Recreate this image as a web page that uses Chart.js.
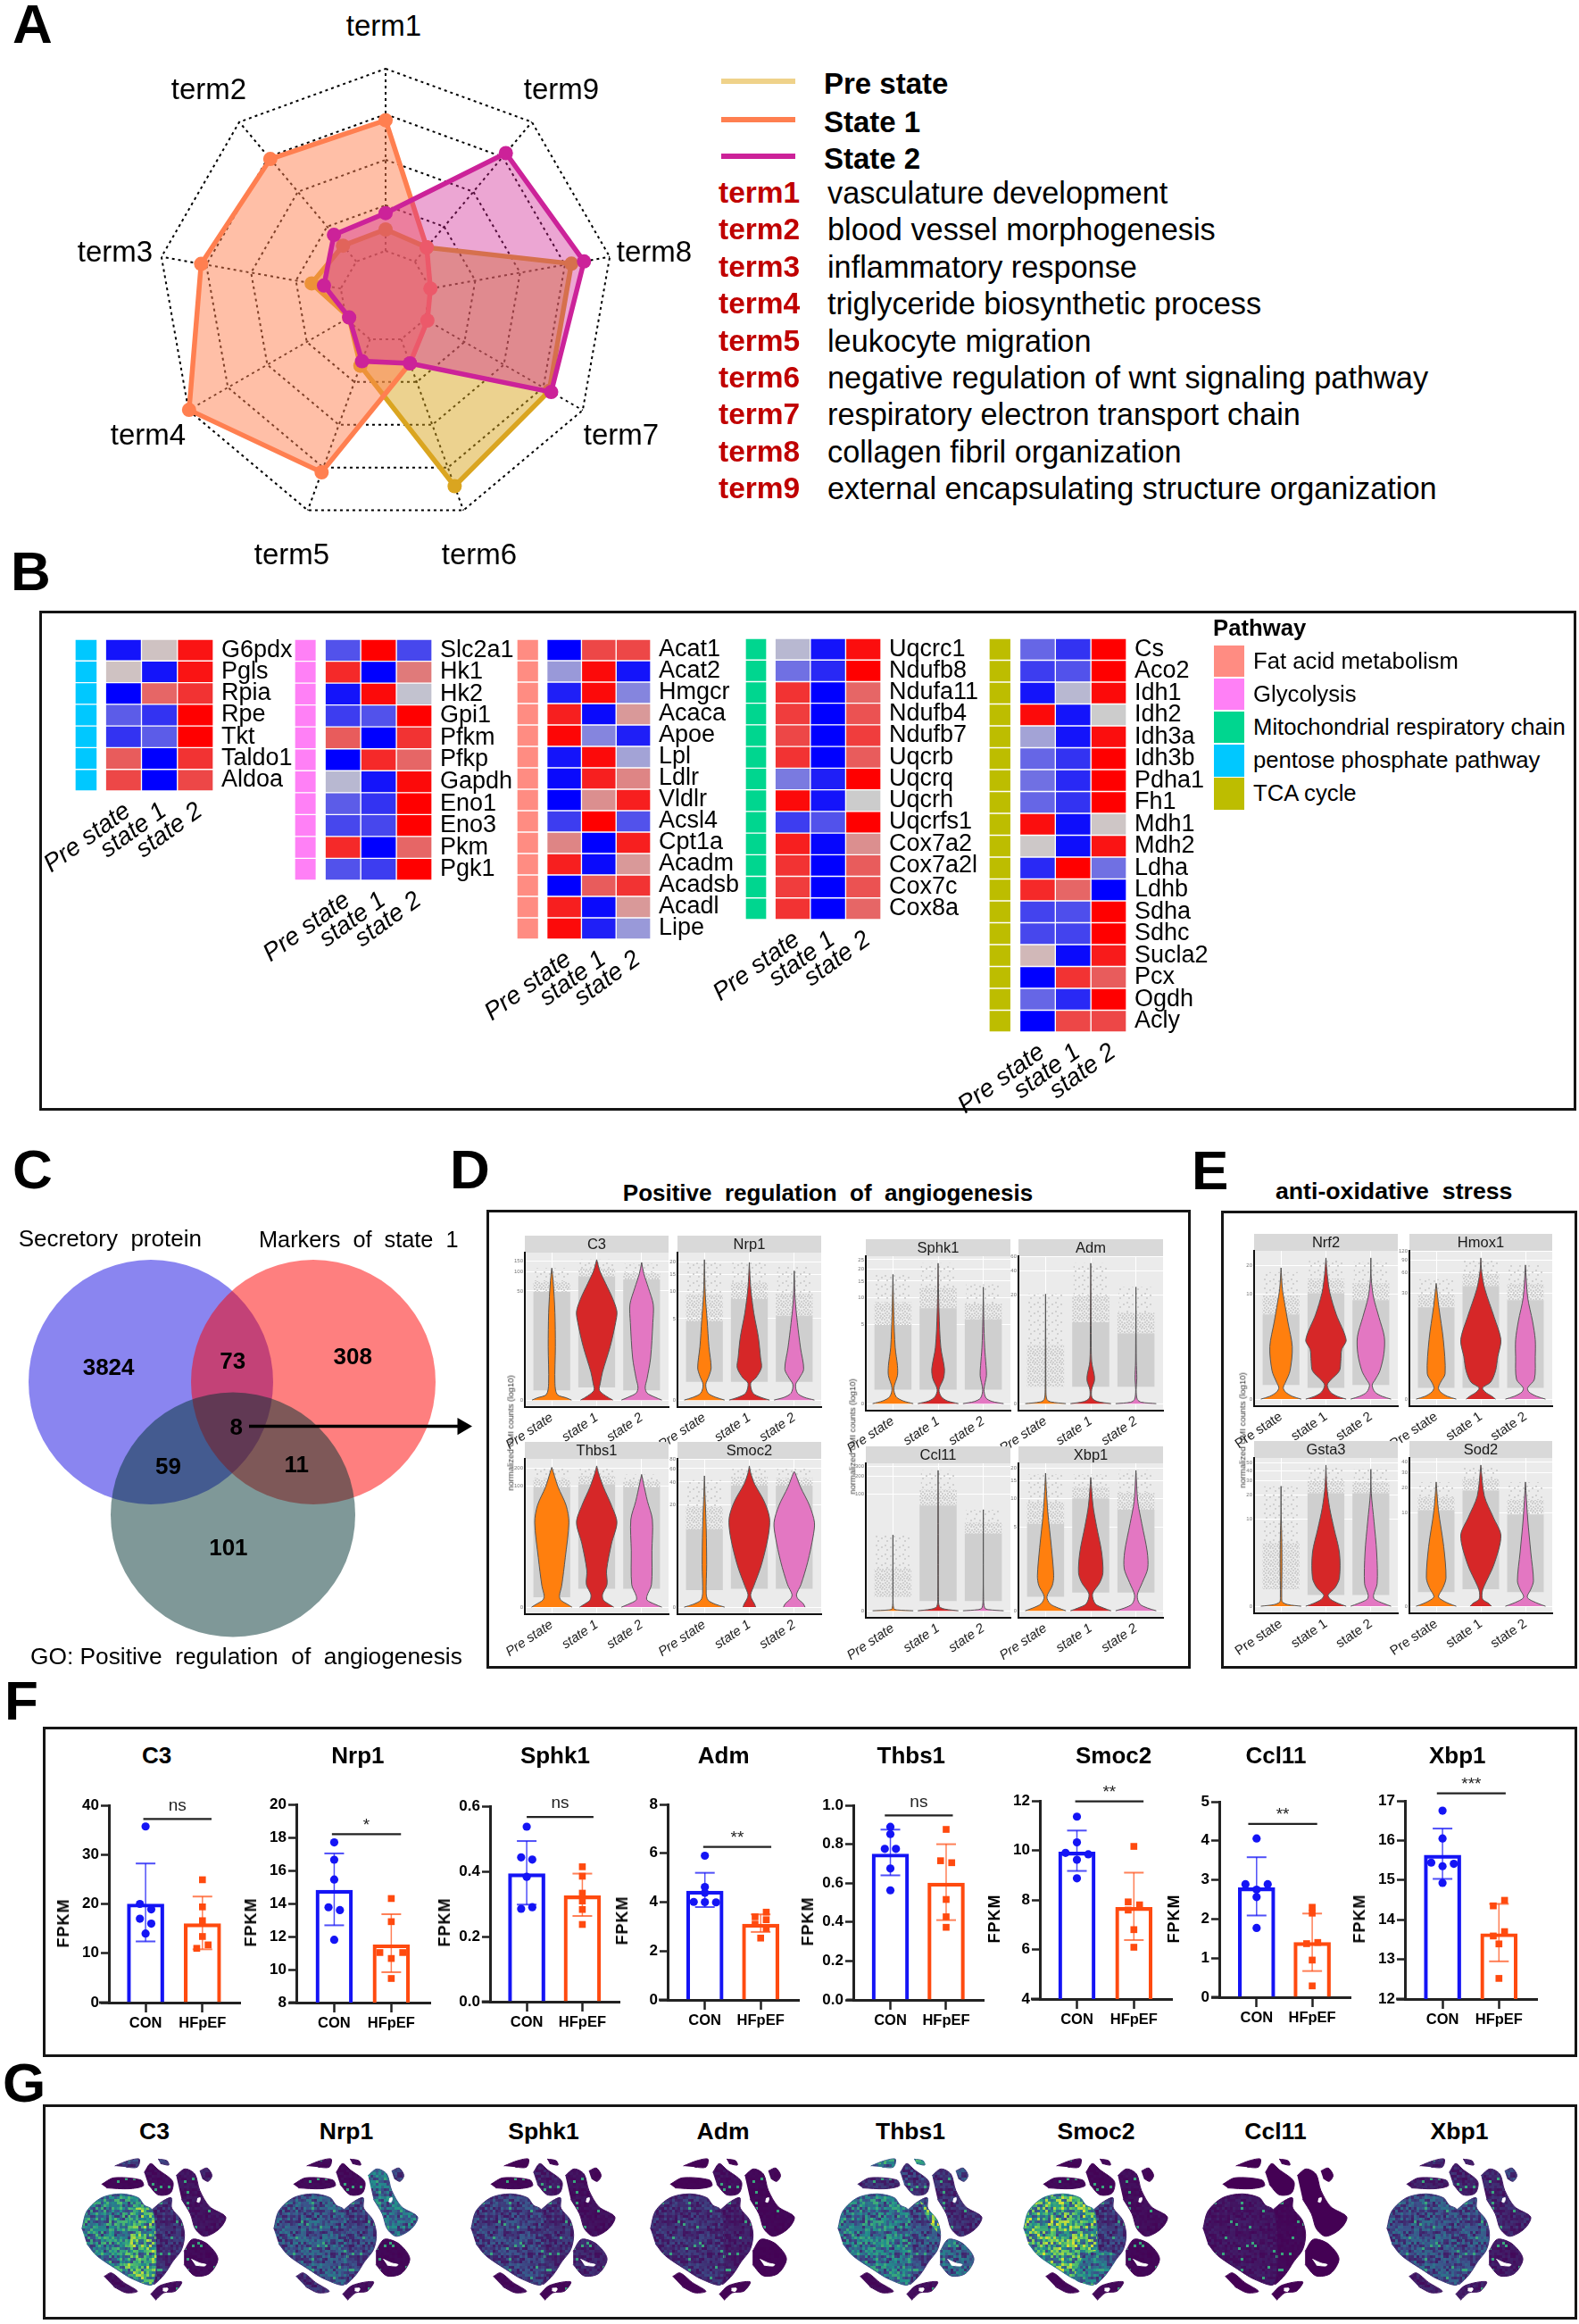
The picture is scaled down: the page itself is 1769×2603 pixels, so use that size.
<!DOCTYPE html>
<html>
<head>
<meta charset="utf-8">
<title>Figure</title>
<script src="https://cdn.jsdelivr.net/npm/chart.js@4/dist/chart.umd.js"></script>
<style>
  html, body { margin: 0; padding: 0; background: #fff; }
  #page { position: relative; width: 1769px; height: 2603px; overflow: hidden; background: #fff; font-family: "Liberation Sans", Arial, sans-serif; }
  #page canvas { position: absolute; }
  .t { position: absolute; white-space: pre; color: #000; z-index: 3; line-height: 1; }
  .box { position: absolute; border: 3px solid #151515; box-sizing: border-box; }
</style>
</head>
<body>
<div id="page"></div>
<script>
// ---------- A: radar ----------
const radarLabels = ["term1", "term9", "term8", "term7", "term6", "term5", "term4", "term3", "term2"];
const radarPre = [0.294, 0.281, 0.829, 0.83, 0.887, 0.324, 0.185, 0.33, 0.291];
const radarState1 = [0.774, 0.281, 0.2, 0.212, 0.313, 0.822, 0.997, 0.823, 0.788];
const radarState2 = [0.366, 0.822, 0.885, 0.84, 0.313, 0.303, 0.185, 0.275, 0.353];
const termNames = [
  "vasculature development", "blood vessel morphogenesis", "inflammatory response",
  "triglyceride biosynthetic process", "leukocyte migration",
  "negative regulation of wnt signaling pathway", "respiratory electron transport chain",
  "collagen fibril organization", "external encapsulating structure organization"
];

// ---------- B: heatmaps, z score per gene [Pre state, state 1, state 2] ----------
const stateLabels = ["Pre state", "state 1", "state 2"];
const genesPpp = ["G6pdx", "Pgls", "Rpia", "Rpe", "Tkt", "Taldo1", "Aldoa"];
const zPpp = [[-.9,.05,.9],[.05,-.9,.9],[-1,.5,.75],[-.55,-.75,1],[-.75,-.55,1],[.55,-1,.75],[.65,-1,.65]];
const genesGly = ["Slc2a1", "Hk1", "Hk2", "Gpi1", "Pfkm", "Pfkp", "Gapdh", "Eno1", "Eno3", "Pkm", "Pgk1"];
const zGly = [[-.6,1,-.65],[.8,-1,.4],[-.9,.95,-.05],[-.7,-.6,1],[.55,-1,.75],[-1,.8,.5],[-.1,-.9,.95],[-.55,-.75,1],[-.65,-.65,1],[.8,-1,.5],[-.6,-.7,1]];
const genesFat = ["Acat1", "Acat2", "Hmgcr", "Acaca", "Apoe", "Lpl", "Ldlr", "Vldlr", "Acsl4", "Cpt1a", "Acadm", "Acadsb", "Acadl", "Lipe"];
const zFat = [[-1,.65,.65],[-.25,.95,-.9],[-.85,.95,-.35],[.85,-.95,.25],[.97,-.35,-.85],[-.9,.95,-.2],[-.95,.85,.35],[-1,.3,.85],[-.7,1,-.6],[.35,-1,.85],[.85,-.95,.25],[-1,.55,.75],[.85,-.95,.25],[.95,-.85,-.25]];
const genesMito = ["Uqcrc1", "Ndufb8", "Ndufa11", "Ndufb4", "Ndufb7", "Uqcrb", "Uqcrq", "Uqcrh", "Uqcrfs1", "Cox7a2", "Cox7a2l", "Cox7c", "Cox8a"];
const zMito = [[-.1,-.9,.93],[-.45,-.8,1],[.75,-1,.5],[.7,-1,.6],[.65,-1,.7],[.75,-1,.55],[-.4,-.85,1],[.95,-.9,0],[-.7,-.6,1],[.85,-.97,.3],[.75,-1,.55],[.7,-1,.6],[.75,-1,.5]];
const genesTca = ["Cs", "Aco2", "Idh1", "Idh2", "Idh3a", "Idh3b", "Pdha1", "Fh1", "Mdh1", "Mdh2", "Ldha", "Ldhb", "Sdha", "Sdhc", "Sucla2", "Pcx", "Ogdh", "Acly"];
const zTca = [[-.5,-.75,1],[-.7,-.6,1],[-.9,-.1,.95],[.95,-.9,0],[-.2,-.9,.93],[-.5,-.75,1],[-.45,-.8,1],[-.5,-.75,1],[.93,-.93,.03],[.02,-.93,.9],[-.8,1,-.45],[.8,.5,-1],[-.67,-.62,1],[-.65,-.67,1],[.1,-.95,.87],[-1,.75,.55],[-.5,-.8,1],[-1,.65,.65]];
const pathwayNames = ["Fat acid metabolism", "Glycolysis", "Mitochondrial respiratory chain", "pentose phosphate pathway", "TCA cycle"];
const pathwayColors = ["#FF8C82", "#FF80F6", "#00D68F", "#00C8FF", "#BDBD00"];

// ---------- C: venn ----------
const vennX = [169, 351, 261];
const vennY = [1548, 1548, 1696.5];
const vennR = [137, 137, 137];

// ---------- D, E: violins. node = [fraction of panel maximum on the log axis, half density] ----------
const vC3 = [
  [[0,.44],[.015,.33],[.04,.12],[.12,.07],[.38,.08],[.62,.07],[.85,.03],[.94,0]],
  [[0,.36],[.03,.2],[.07,.06],[.12,.08],[.2,.13],[.38,.3],[.55,.42],[.63,.45],[.72,.36],[.83,.2],[.92,.07],[1,0]],
  [[0,.45],[.02,.3],[.05,.12],[.09,.08],[.15,.12],[.3,.2],[.55,.25],[.68,.26],[.8,.15],[.9,.05],[.98,0]]];
const vNrp1 = [
  [[0,.45],[.02,.25],[.05,.08],[.11,.03],[.17,.1],[.23,.15],[.38,.1],[.57,.06],[.75,.02],[1,0]],
  [[0,.45],[.02,.25],[.05,.08],[.12,.03],[.16,.15],[.23,.27],[.3,.25],[.45,.2],[.62,.1],[.8,.03],[.98,0]],
  [[0,.45],[.02,.22],[.05,.07],[.11,.03],[.16,.12],[.22,.21],[.37,.14],[.55,.07],[.72,.02],[.92,0]]];
const vThbs1 = [
  [[0,.45],[.02,.35],[.05,.2],[.08,.17],[.15,.22],[.35,.3],[.6,.38],[.72,.32],[.85,.14],[.95,.04],[.99,0]],
  [[0,.38],[.02,.28],[.05,.15],[.09,.13],[.16,.23],[.26,.22],[.45,.33],[.6,.45],[.72,.33],[.85,.15],[.95,.04],[1,0]],
  [[0,.45],[.02,.3],[.05,.12],[.08,.12],[.16,.22],[.4,.23],[.62,.24],[.75,.13],[.88,.04],[.94,0]]];
const vSmoc2 = [
  [[0,.45],[.02,.25],[.05,.08],[.1,.04],[.3,.05],[.55,.04],[.78,.015],[.93,0]],
  [[0,.14],[.02,.12],[.06,.05],[.09,.03],[.15,.1],[.3,.27],[.5,.42],[.63,.45],[.75,.33],[.87,.12],[.95,.03],[1,0]],
  [[0,.24],[.025,.2],[.06,.08],[.09,.05],[.16,.15],[.32,.3],[.5,.42],[.6,.45],[.72,.34],[.85,.14],[.95,.02],[.96,0]]];
const vSphk1 = [
  [[0,.45],[.02,.22],[.05,.07],[.11,.02],[.2,.1],[.27,.1],[.4,.05],[.63,.02],[.92,0]],
  [[0,.45],[.02,.2],[.05,.07],[.1,.02],[.18,.12],[.25,.14],[.4,.06],[.65,.02],[1,0]],
  [[0,.45],[.015,.2],[.04,.06],[.1,.015],[.2,.07],[.27,.06],[.4,.03],[.6,.01],[.83,0]]];
const vAdm = [
  [[0,.45],[.012,.12],[.03,.03],[.1,.008],[.4,.005],[.78,0]],
  [[0,.45],[.015,.15],[.04,.03],[.1,.02],[.16,.08],[.2,.08],[.3,.02],[.5,.01],[1,0]],
  [[0,.45],[.01,.12],[.03,.03],[.1,.005],[.18,.02],[.3,.008],[.83,0]]];
const vCcl11 = [
  [[0,.45],[.006,.1],[.015,.02],[.1,.003],[.54,0]],
  [[0,.45],[.012,.15],[.03,.03],[.1,.008],[.4,.006],[1,0]],
  [[0,.45],[.008,.12],[.02,.03],[.1,.005],[.72,0]]];
const vXbp1 = [
  [[0,.45],[.02,.28],[.05,.1],[.1,.03],[.18,.15],[.25,.18],[.45,.13],[.7,.05],[.85,.02],[.98,0]],
  [[0,.45],[.02,.28],[.05,.1],[.12,.04],[.2,.2],[.27,.27],[.42,.24],[.6,.13],[.75,.05],[.95,0]],
  [[0,.45],[.02,.25],[.05,.08],[.11,.03],[.2,.14],[.3,.26],[.42,.25],[.62,.13],[.78,.04],[1,0]]];
const vNrf2 = [
  [[0,.45],[.02,.25],[.05,.1],[.08,.05],[.12,.1],[.2,.2],[.37,.25],[.55,.15],[.68,.08],[.78,.03],[.93,0]],
  [[0,.45],[.02,.25],[.05,.1],[.1,.03],[.14,.12],[.2,.3],[.27,.33],[.35,.35],[.42,.45],[.6,.23],[.75,.09],[.88,.03],[1,0]],
  [[0,.45],[.02,.25],[.05,.09],[.1,.03],[.14,.1],[.2,.2],[.32,.29],[.44,.3],[.58,.18],[.72,.06],[.85,.01],[1,0]]];
const vHmox1 = [
  [[0,.45],[.02,.25],[.05,.1],[.08,.05],[.12,.1],[.18,.2],[.42,.16],[.65,.06],[.82,0]],
  [[0,.33],[.02,.25],[.05,.1],[.08,.04],[.12,.22],[.2,.33],[.3,.38],[.42,.45],[.58,.3],[.78,.09],[.9,.02],[1,0]],
  [[0,.45],[.02,.25],[.05,.08],[.08,.05],[.14,.2],[.3,.22],[.42,.22],[.55,.16],[.72,.05],[.95,0]]];
const vGsta3 = [
  [[0,.45],[.012,.15],[.03,.03],[.06,.015],[.3,.02],[.5,.015],[.65,.003],[.85,0]],
  [[0,.45],[.02,.28],[.05,.1],[.08,.05],[.13,.2],[.2,.3],[.38,.3],[.55,.18],[.7,.08],[.85,.02],[1,0]],
  [[0,.45],[.02,.28],[.05,.08],[.08,.06],[.16,.14],[.38,.13],[.6,.07],[.8,.01],[.97,0]]];
const vSod2 = [
  [[0,.45],[.02,.28],[.05,.1],[.07,.05],[.13,.15],[.2,.22],[.42,.17],[.68,.05],[.88,0]],
  [[0,.24],[.02,.18],[.05,.04],[.1,.03],[.14,.07],[.3,.3],[.5,.45],[.63,.28],[.78,.08],[1,0]],
  [[0,.45],[.02,.28],[.05,.08],[.07,.04],[.12,.12],[.18,.18],[.38,.12],[.62,.05],[.88,0]]];

// grey jitter extent per state: [bottom, top of dense part, top of sparse part] as fraction of maximum
const jC3 = [[.07,.77,.94],[.09,.88,1],[.07,.86,.97]];
const jNrp1 = [[.13,.56,.98],[.13,.72,.98],[.13,.6,.95]];
const jThbs1 = [[.07,.85,.99],[.13,.87,1],[.13,.85,.94]];
const jSmoc2 = [[.12,.55,.9],[.13,.86,1],[.13,.86,.98]];
const jSphk1 = [[.1,.56,.92],[.1,.68,1],[.1,.6,.85]];
const jAdm = [[.12,.12,.78],[.12,.58,1],[.12,.5,.83]];
const jCcl11 = [[.1,.1,.54],[.07,.75,1],[.07,.55,.72]];
const jXbp1 = [[.1,.62,.97],[.13,.8,.97],[.13,.72,1]];
const jNrf2 = [[.1,.6,.9],[.08,.75,.98],[.1,.7,.97]];
const jHmox1 = [[.08,.65,.85],[.08,.8,.99],[.08,.7,.95]];
const jGsta3 = [[.12,.12,.85],[.08,.8,1],[.08,.8,.97]];
const jSod2 = [[.1,.68,.88],[.12,.82,1],[.1,.65,.88]];

// tick values and the largest count on each panel
const ticksC3 = [0,50,100,150], maxC3 = 157;
const ticksNrp1 = [0,5,10,15,20], maxNrp1 = 21;
const ticksThbs1 = [0,100,200], maxThbs1 = 215;
const ticksSmoc2 = [0,20,40,60,80], maxSmoc2 = 65;
const ticksSphk1 = [0,5,10,15,20,25], maxSphk1 = 23;
const ticksAdm = [0,20,40,60], maxAdm = 50;
const ticksCcl11 = [0,100,200,300], maxCcl11 = 255;
const ticksXbp1 = [0,5,10,15,20], maxXbp1 = 19;
const ticksNrf2 = [0,10,20], maxNrf2 = 24;
const ticksHmox1 = [0,30,60,90,120], maxHmox1 = 97;
const ticksGsta3 = [0,10,20,30,40,50], maxGsta3 = 47;
const ticksSod2 = [0,10,20,30,40], maxSod2 = 37;

// ---------- F: FPKM bars ----------
const groups = ["CON", "HFpEF"];
const fGenes = ["C3", "Nrp1", "Sphk1", "Adm", "Thbs1", "Smoc2", "Ccl11", "Xbp1"];
const fMeans = [[20,16],[14.8,11.5],[.393,.325],[4.45,3.1],[.75,.6],[9.93,7.7],[2.8,1.4],[15.63,13.65]];
const fHigh = [[28.2,21.5],[17.03,13.35],[.493,.393],[5.2,3.5],[.875,.8],[10.8,9.1],[3.58,2.14],[16.3,14.4]];
const fLow = [[12.4,10.8],[12.68,9.84],[.298,.263],[3.8,2.78],[.64,.41],[9.17,6.38],[2.09,.67],[15.03,12.95]];
const fAxisMin = [0,8,0,0,0,4,0,12];
const fAxisMax = [40,20,.6,8,1,12,5,17];
const fStep = [10,2,.2,2,.2,2,1,1];
const fDecimals = [0,0,1,0,1,0,0,0];
const fSigText = ["ns","*","ns","**","ns","**","**","***"];
const fSigY = [37.2,18.2,.567,6.26,.948,11.98,4.43,17.19];
const fSigX = [[-.04,1.16],[-.04,1.17],[0,1.2],[-.03,1.19],[-.1,1.12],[-.03,1.17],[-.15,1.09],[-.1,1.12]];
// points per gene: [offset, value]
const fCon = [
  [[0,35.7],[-.1,20],[.1,18.9],[-.1,17],[.1,16],[0,14]],
  [[0,17.7],[0,16.65],[0,15.45],[-.1,13.77],[.1,13.6],[0,11.8]],
  [[0,.537],[-.1,.443],[.1,.436],[0,.383],[.1,.29],[-.1,.285]],
  [[0,5.9],[0,4.62],[0,4.38],[-.2,4.01],[.2,3.99],[0,4]],
  [[0,.889],[0,.852],[-.1,.776],[.1,.776],[0,.675],[0,.563]],
  [[0,11.36],[0,10.32],[-.2,9.9],[.2,9.84],[0,9.62],[0,8.87]],
  [[0,4.06],[-.2,2.89],[.2,2.89],[0,2.75],[0,2.56],[0,1.77]],
  [[0,16.75],[0,16.05],[-.2,15.44],[.2,15.41],[0,15.35],[0,14.93]]];
const fHf = [
  [[0,24.9],[0,19.4],[0,16.6],[0,13.4],[.1,11.7],[-.1,11]],
  [[0,14.3],[0,12.9],[-.2,11.03],[.2,11.03],[0,10.67],[0,9.46]],
  [[0,.414],[0,.385],[0,.333],[0,.309],[0,.283],[0,.237]],
  [[.1,3.59],[-.1,3.4],[.1,3.28],[-.1,3.1],[.1,2.92],[0,2.53]],
  [[0,.876],[-.1,.715],[.1,.705],[0,.516],[0,.427],[0,.373]],
  [[0,10.16],[-.1,7.92],[.1,7.8],[-.1,7.59],[0,6.8],[0,6.09]],
  [[0,2.3],[0,2.15],[.1,1.4],[-.1,1.37],[0,.95],[0,.29]],
  [[.1,14.49],[-.1,14.35],[.1,13.7],[-.1,13.59],[0,13.39],[0,12.52]]];

// ---------- G: t-SNE clusters (outlines in embedding units) ----------
const clusterMainL = [[95,470],[105,410],[135,365],[175,352],[210,365],[222,390],[238,405],[245,480],[240,655],[200,640],[165,605],[125,560],[105,520]];
const clusterMainR = [[238,405],[258,378],[277,365],[278,400],[297,440],[304,490],[298,540],[280,580],[262,625],[240,655],[245,480]];
const clusterLong = [[287,290],[305,268],[325,285],[335,340],[355,395],[388,430],[375,470],[345,495],[326,470],[316,420],[298,370]];
const clusterLower = [[303,545],[320,505],[350,520],[372,570],[355,620],[325,628],[303,590]];
const clusterTopMid = [[222,280],[235,250],[250,270],[280,310],[275,350],[250,355],[230,320]];
const clusterFlat = [[135,320],[160,298],[215,305],[220,325],[190,335],[145,332]];
const clusterTopSmall = [[162,258],[190,240],[212,235],[208,262],[185,262]];
const clusterSmallTR = [[335,275],[350,265],[360,290],[352,310],[340,300]];
const clusterArc = [[140,630],[155,618],[180,650],[208,680],[185,685],[160,665]];
const clusterBottom = [[235,690],[255,660],[298,648],[285,680],[262,685],[245,710]];
const clusterTiny = [[250,235],[268,240],[272,255],[255,250]];
const clusterOutlines = [clusterMainL, clusterMainR, clusterLong, clusterLower, clusterTopMid, clusterFlat, clusterTopSmall, clusterSmallTR, clusterArc, clusterBottom, clusterTiny];
const holeLower = [[318,572],[335,585],[348,590],[344,595],[326,592]];
const holeBottom = [[260,670],[270,670],[268,680],[260,678]];
const holeLong = [[330,368],[336,365],[334,380],[329,378]];

const tsneGenes = ["C3", "Nrp1", "Sphk1", "Adm", "Thbs1", "Smoc2", "Ccl11", "Xbp1"];
const levelC3 = [.5,.16,.06,.03,.04,.02,.2,.1,.05,.05,.2];
const levelNrp1 = [.3,.24,.4,.02,.03,.03,.03,.2,.15,.05,.03];
const levelSphk1 = [.22,.16,.05,.12,.1,.02,.01,.02,.03,.02,.02];
const levelAdm = [.16,.1,.02,.01,.05,.01,.01,.02,.01,.01,.01];
const levelThbs1 = [.45,.28,.15,.35,.2,.15,.5,.25,.03,.05,.6];
const levelSmoc2 = [.68,.2,.04,.02,.02,.03,.02,.02,.02,.03,.02];
const levelCcl11 = [.07,.025,0,0,0,0,0,0,0,0,0];
const levelXbp1 = [.28,.28,.12,.08,.12,.1,.12,.2,.1,.1,.1];
const hotC3 = [[190,400],[235,405],[245,480],[240,650],[205,640],[180,590],[195,500]];
const hotThbs1 = [[262,375],[277,400],[297,440],[304,490],[292,470],[275,430]];
const hotSmoc2 = [[245,540],[285,560],[262,625],[240,655],[200,640],[215,560]];

// ---------- helpers ----------
const page = document.getElementById("page");
Chart.defaults.font.family = '"Liberation Sans", Arial, sans-serif';
Chart.defaults.color = "#000";
Chart.defaults.animation = false;
Chart.defaults.plugins.legend.display = false;
Chart.defaults.plugins.tooltip.enabled = false;

function put(str, x, y, o) {
  o = o || {};
  const d = document.createElement("div");
  d.className = "t";
  d.textContent = str;
  d.style.left = x + "px";
  d.style.top = y + "px";
  d.style.fontSize = (o.size || 20) + "px";
  if (o.weight) d.style.fontWeight = o.weight;
  if (o.color) d.style.color = o.color;
  if (o.italic) d.style.fontStyle = "italic";
  if (o.spacing) d.style.letterSpacing = o.spacing + "px";
  const tx = o.left ? "0" : "-50%";
  d.style.transform = "translate(" + tx + ",-50%)" + (o.rotate ? " rotate(" + o.rotate + "deg)" : "");
  page.appendChild(d);
}

function rect(x0, y0, x1, y1, color) {
  const d = document.createElement("div");
  d.style.cssText = "position:absolute;left:" + x0 + "px;top:" + y0 + "px;width:" + (x1 - x0) + "px;height:" + (y1 - y0) + "px;background:" + color;
  page.appendChild(d);
}

function frame(x0, y0, x1, y1) {
  const d = document.createElement("div");
  d.className = "box";
  d.style.cssText = "left:" + x0 + "px;top:" + y0 + "px;width:" + (x1 - x0) + "px;height:" + (y1 - y0) + "px";
  page.appendChild(d);
}

// plot = plot area on the page, m = room around it for axes
function addChart(plot, m, cfg) {
  const x0 = Math.round(plot[0]), y0 = Math.round(plot[1]), x1 = Math.round(plot[2]), y1 = Math.round(plot[3]);
  const cv = document.createElement("canvas");
  cv.width = x1 - x0 + m.l + m.r;
  cv.height = y1 - y0 + m.t + m.b;
  cv.style.left = (x0 - m.l) + "px";
  cv.style.top = (y0 - m.t) + "px";
  page.appendChild(cv);
  const sc = cfg.options.scales || {};
  const pad = { left: m.l, right: m.r, top: m.t, bottom: m.b };
  const noPad = s => { s.paddingLeft = s.paddingRight = s.paddingTop = s.paddingBottom = 0; };
  if (sc.y && sc.y.display !== false) {
    if (sc.y.position === "right") { sc.y.afterFit = s => { s.width = m.r; noPad(s); }; pad.right = 0; }
    else { sc.y.afterFit = s => { s.width = m.l; noPad(s); }; pad.left = 0; }
  }
  if (sc.x && sc.x.display !== false) {
    sc.x.afterFit = s => { s.height = m.b; noPad(s); };
    pad.bottom = 0;
  }
  cfg.options.layout = { autoPadding: false, padding: pad };
  cfg.options.responsive = false;
  cfg.options.devicePixelRatio = 1;
  return new Chart(cv, cfg);
}

function mix(a, b, t) {
  return "rgb(" + a.map((v, i) => Math.round(v + (b[i] - v) * t)).join(",") + ")";
}
function heatColor(z) {
  return z < 0 ? mix([204,204,204], [0,0,255], -z) : mix([204,204,204], [255,0,0], z);
}

const viridisStops = [[68,1,84],[59,82,139],[33,144,140],[93,200,99],[253,231,37]];
function viridis(v) {
  v = Math.max(0, Math.min(1, v)) * 4;
  const i = Math.min(3, Math.floor(v));
  return mix(viridisStops[i], viridisStops[i + 1], v - i);
}
// speckled cell texture for a cluster level (fixed hash, looks the same on every run)
function speckle(level) {
  const n = 25, cellPx = 3;
  const tile = document.createElement("canvas");
  tile.width = tile.height = n * cellPx;
  const c = tile.getContext("2d");
  for (let i = 0; i < n; i++) for (let j = 0; j < n; j++) {
    const s = Math.sin(i * 12.9898 + j * 78.233) * 43758.5453;
    const u = s - Math.floor(s);
    let v = level * (.3 + 1.1 * u);
    if (u > .975 && level >= .02) v = Math.max(v, .6);
    c.fillStyle = viridis(v);
    c.fillRect(i * cellPx, j * cellPx, cellPx, cellPx);
  }
  return c.createPattern(tile, "repeat");
}
// grey jitter texture, dots is a list of tile positions
function stipple(dots) {
  const tile = document.createElement("canvas");
  tile.width = 10; tile.height = 10;
  const c = tile.getContext("2d");
  c.fillStyle = "#d0d0d0";
  dots.forEach(p => c.fillRect(p[0], p[1], 2, 2));
  return c.createPattern(tile, "repeat");
}
const midFill = stipple([[0,0],[3,1],[7,0],[1,3],[5,3],[8,4],[3,5],[0,6],[6,6],[2,8],[5,8],[8,8]]);
const sparseFill = stipple([[1,1],[7,3],[3,6]]);

// ---------- panel letters ----------
[["A",14,27],["B",12,640],["C",14,1310],["D",504,1310],["E",1335,1311],["F",5,1905],["G",3,2333]].forEach(p =>
  put(p[0], p[1], p[2], { size: 62, weight: "bold", left: true }));

// ---------- A ----------
const spokes = {
  id: "spokes",
  beforeDatasetsDraw(chart) {
    const r = chart.scales.r, c = chart.ctx;
    c.save();
    c.strokeStyle = "#000"; c.lineWidth = 2; c.setLineDash([3, 4]);
    radarLabels.forEach((l, i) => {
      const a = r.getPointPositionForValue(i, .2), b = r.getPointPositionForValue(i, 1);
      c.beginPath(); c.moveTo(a.x, a.y); c.lineTo(b.x, b.y); c.stroke();
    });
    c.restore();
  }
};
function radarSet(label, values, line, fill, order) {
  return { label, data: values, order, fill: true, backgroundColor: fill, borderColor: line, borderWidth: 5.5,
    pointRadius: 8, pointBackgroundColor: line, pointBorderWidth: 0, tension: 0 };
}
addChart([177, 77, 687, 587], { l: 15, t: 15, r: 15, b: 15 }, {
  type: "radar",
  data: { labels: radarLabels, datasets: [
    radarSet("State 2", radarState2, "#CC2299", "rgba(208,32,144,.4)", 1),
    radarSet("State 1", radarState1, "#FF7F50", "rgba(255,127,80,.5)", 2),
    radarSet("Pre state", radarPre, "#DAA520", "rgba(218,165,32,.5)", 3)
  ] },
  options: { scales: { r: { min: 0, max: 1,
    ticks: { display: false, stepSize: .2 },
    grid: { color: "#000", lineWidth: 2, circular: false },
    border: { dash: [3, 4] },
    angleLines: { display: false },
    pointLabels: { display: false } } } },
  plugins: [spokes]
});
[["term1",430,28],["term2",234,99],["term9",629,99],["term3",129,281],["term8",733,281],["term4",166,486],["term7",696,486],["term5",327,620],["term6",537,620]].forEach(p =>
  put(p[0], p[1], p[2], { size: 33 }));

[["Pre state","#EFD28A",91],["State 1","#FF7F50",134],["State 2","#CC2299",175]].forEach(p => {
  rect(808, p[2] - 3, 891, p[2] + 3, p[1]);
  put(p[0], 923, p[2] + 2, { size: 33, weight: "bold", left: true });
});
termNames.forEach((name, i) => {
  const y = 216 + i * 41.4;
  put("term" + (i + 1), 805, y, { size: 33.5, weight: "bold", color: "#C00000", left: true });
  put(name, 927, y, { size: 34.3, left: true });
});

// ---------- B ----------
frame(43.5, 683.7, 1766, 1244);
function heatBlock(genes, z, color, b) {
  const cell = (b[3] - b[2]) / 3;
  const annW = (b[1] - b[0]) / cell, gap = (b[2] - b[1]) / cell;
  const centers = [annW + gap + .5, annW + gap + 1.5, annW + gap + 2.5];
  const sets = [
    { data: genes.map(() => annW), backgroundColor: color },
    { data: genes.map(() => gap), backgroundColor: "transparent", borderWidth: 0 }
  ];
  stateLabels.forEach((s, k) => sets.push({ label: s, data: genes.map(() => 1), backgroundColor: z.map(r => heatColor(r[k])) }));
  sets.forEach(s => {
    s.categoryPercentage = 1; s.barPercentage = 1; s.borderSkipped = false;
    if (s.borderWidth === undefined) { s.borderWidth = 1; s.borderColor = "#fff"; }
  });
  addChart([b[0], b[4], b[3], b[5]], { l: 100, t: 4, r: 140, b: 110 }, {
    type: "bar",
    data: { labels: genes, datasets: sets },
    options: {
      indexAxis: "y",
      scales: {
        x: { type: "linear", stacked: true, min: 0, max: annW + gap + 3,
          grid: { display: false, drawTicks: false }, border: { display: false },
          afterBuildTicks: s => { s.ticks = centers.map(v => ({ value: v })); },
          ticks: { autoSkip: false, minRotation: 36, maxRotation: 36, padding: 6, labelOffset: 5,
            font: { size: 28, style: "italic" }, callback: (v, i) => stateLabels[i] } },
        y: { stacked: true, position: "right", grid: { display: false, drawTicks: false }, border: { display: false },
          ticks: { autoSkip: false, padding: 9, font: { size: 27 } } }
      }
    }
  });
}
heatBlock(genesPpp, zPpp, pathwayColors[3], [84.2, 109, 118.3, 238.7, 715.6, 886.3]);
heatBlock(genesGly, zGly, pathwayColors[1], [329.7, 354, 363.9, 483.7, 715.9, 985.6]);
heatBlock(genesFat, zFat, pathwayColors[0], [579, 603.5, 612.7, 729.2, 715.6, 1051.5]);
heatBlock(genesMito, zMito, pathwayColors[2], [834.6, 858.7, 868, 987.3, 715.2, 1030]);
heatBlock(genesTca, zTca, pathwayColors[4], [1107.8, 1132.5, 1142.4, 1262.3, 715.2, 1156.3]);

put("Pathway", 1359, 704, { size: 25.7, weight: "bold", left: true });
pathwayNames.forEach((n, i) => {
  const y0 = 722.6 + i * 37.2;
  rect(1360, y0, 1394, y0 + 35.4, pathwayColors[i]);
  put(n, 1404, y0 + 18, { size: 25.7, left: true });
});

// ---------- C ----------
addChart([0, 1270, 540, 1880], { l: 0, t: 0, r: 0, b: 0 }, {
  type: "bubble",
  data: { datasets: [
    { data: [{ x: vennX[0], y: vennY[0], r: vennR[0] }], backgroundColor: "rgba(21,11,225,.5)", borderWidth: 0, order: 3 },
    { data: [{ x: vennX[1], y: vennY[1], r: vennR[1] }], backgroundColor: "rgba(253,0,0,.5)", borderWidth: 0, order: 2 },
    { data: [{ x: vennX[2], y: vennY[2], r: vennR[2] }], backgroundColor: "rgba(0,49,49,.5)", borderWidth: 0, order: 1 },
    { type: "scatter", data: [{ x: 279, y: 1597.6 }, { x: 518, y: 1597.6 }], showLine: true, borderColor: "#000", borderWidth: 3.5,
      pointStyle: "triangle", rotation: 90, pointRadius: [0, 11], pointBackgroundColor: "#000", pointBorderWidth: 0, order: 0, clip: false }
  ] },
  options: { scales: {
    x: { display: false, min: 0, max: 540 },
    y: { display: false, min: 1270, max: 1880, reverse: true }
  } }
});
put("Secretory  protein", 20.7, 1387, { size: 26, left: true });
put("Markers  of  state  1", 290, 1389, { size: 25.3, left: true });
put("GO: Positive  regulation  of  angiogenesis", 34, 1855, { size: 26.3, left: true });
[["3824",121.6,1531],["73",260.7,1524],["308",395.3,1519],["8",264.8,1597.6],["59",188.4,1641.6],["11",332.3,1639.6],["101",255.9,1733]].forEach(p =>
  put(p[0], p[1], p[2], { size: 26, weight: "bold" }));

// ---------- D, E ----------
const violinColors = ["#FF7F0E", "#D62728", "#E377C2"];
function violinPanel(name, ticks, maxVal, nodes, jit, plot, italic) {
  const top = Math.log10(1 + maxVal);
  const sets = [];
  nodes.forEach((n, k) => {
    const cx = k + 1;
    const side = n.map(p => ({ x: cx + p[1], y: p[0] * top }));
    const other = n.slice().reverse().map(p => ({ x: cx - p[1], y: p[0] * top }));
    sets.push({ data: side.concat(other), showLine: true, fill: "shape", backgroundColor: violinColors[k],
      borderColor: "#555", borderWidth: 1, pointRadius: 0, tension: .3, order: 1 });
  });
  jit.forEach((j, k) => {
    const cx = k + 1;
    const band = (lo, hi, w) => [{ x: cx - w, y: lo * top }, { x: cx + w, y: lo * top }, { x: cx + w, y: hi * top }, { x: cx - w, y: hi * top }];
    const mid = j[1] + (j[2] - j[1]) * .45;
    sets.push({ data: band(j[0], j[1], .41), showLine: true, fill: "shape", backgroundColor: "#cfcfcf", borderWidth: 0, pointRadius: 0, order: 2 });
    sets.push({ data: band(j[1], mid, .41), showLine: true, fill: "shape", backgroundColor: midFill, borderWidth: 0, pointRadius: 0, order: 3 });
    sets.push({ data: band(mid, j[2], .38), showLine: true, fill: "shape", backgroundColor: sparseFill, borderWidth: 0, pointRadius: 0, order: 4 });
  });
  const strip = {
    id: "strip",
    beforeDraw(chart) {
      const a = chart.chartArea, c = chart.ctx;
      c.save();
      c.fillStyle = "#ebebeb"; c.fillRect(a.left, a.top, a.right - a.left, a.bottom - a.top);
      c.fillStyle = "#d9d9d9"; c.fillRect(a.left, a.top - 19, a.right - a.left, 19);
      c.fillStyle = "#1a1a1a"; c.font = '16.5px "Liberation Sans"'; c.textAlign = "center"; c.textBaseline = "middle";
      c.fillText(name, (a.left + a.right) / 2, a.top - 9);
      c.restore();
    }
  };
  addChart(plot, { l: 60, t: 20, r: 3, b: 70 }, {
    type: "scatter",
    data: { datasets: sets },
    options: { scales: {
      x: { type: "linear", min: .4, max: 3.6, grid: { color: "#fff", drawTicks: false },
        border: { color: "#111", width: 2 },
        afterBuildTicks: s => { s.ticks = [1, 2, 3].map(v => ({ value: v })); },
        ticks: { autoSkip: false, minRotation: 34, maxRotation: 34, padding: 3, color: "#222",
          font: { size: 15, style: italic ? "italic" : "normal" }, callback: (v, i) => stateLabels[i] } },
      y: { type: "linear", min: -.05 * top, max: 1.05 * top, grid: { color: "#fff", drawTicks: false },
        border: { color: "#111", width: 2 },
        afterBuildTicks: s => { s.ticks = ticks.map(v => ({ value: Math.log10(1 + v) })); },
        ticks: { autoSkip: false, padding: 2, color: "#777", font: { size: 6 }, callback: (v, i) => String(ticks[i]) } }
    } },
    plugins: [strip]
  });
}
frame(544.6, 1355.4, 1333.9, 1868.6);
put("Positive  regulation  of  angiogenesis", 927.5, 1336, { size: 26, weight: "bold" });
violinPanel("C3", ticksC3, maxC3, vC3, jC3, [587.5, 1403.2, 748.6, 1575.8], true);
violinPanel("Nrp1", ticksNrp1, maxNrp1, vNrp1, jNrp1, [758.6, 1403.2, 919.6, 1575.8], true);
violinPanel("Thbs1", ticksThbs1, maxThbs1, vThbs1, jThbs1, [587.5, 1634.4, 748.6, 1808], true);
violinPanel("Smoc2", ticksSmoc2, maxSmoc2, vSmoc2, jSmoc2, [758.6, 1634.4, 919.6, 1808], true);
violinPanel("Sphk1", ticksSphk1, maxSphk1, vSphk1, jSphk1, [970.4, 1407, 1131.5, 1580.4], true);
violinPanel("Adm", ticksAdm, maxAdm, vAdm, jAdm, [1141.4, 1407, 1302.5, 1580.4], true);
violinPanel("Ccl11", ticksCcl11, maxCcl11, vCcl11, jCcl11, [970.4, 1638.6, 1131.5, 1812], true);
violinPanel("Xbp1", ticksXbp1, maxXbp1, vXbp1, jXbp1, [1141.4, 1638.6, 1302.5, 1812], true);
put("normalized UMI counts (log10)", 572, 1605, { size: 9.5, color: "#333", rotate: -90 });
put("normalized UMI counts (log10)", 955, 1609, { size: 9.5, color: "#333", rotate: -90 });

frame(1367.7, 1355.8, 1767, 1868.6);
put("anti-oxidative  stress", 1561.7, 1334, { size: 26.7, weight: "bold" });
violinPanel("Nrf2", ticksNrf2, maxNrf2, vNrf2, jNrf2, [1405.3, 1401, 1565.7, 1575], false);
violinPanel("Hmox1", ticksHmox1, maxHmox1, vHmox1, jHmox1, [1578.7, 1401, 1739, 1575], false);
violinPanel("Gsta3", ticksGsta3, maxGsta3, vGsta3, jGsta3, [1405.3, 1632.5, 1565.7, 1806.6], false);
violinPanel("Sod2", ticksSod2, maxSod2, vSod2, jSod2, [1578.7, 1632.5, 1739, 1806.6], false);
put("normalized UMI counts (log10)", 1392, 1602, { size: 9.5, color: "#333", rotate: -90 });

// ---------- F ----------
frame(48, 1934, 1767, 2304);
// [y axis x, x axis right end, CON x, HFpEF x, zero line y, top y, x axis left end, title x]
const fLayout = [
  [122.3,269.3,163.4,227.1,2243.3,2021.7,111.3,175.5],
  [332.4,481.6,374.6,438.2,2242.7,2020.7,324.1,400.9],
  [548.5,693.9,589.7,652.2,2241.7,2022.7,539.2,621.9],
  [747.6,894.6,789.3,851.8,2240,2020.7,737.7,810.7],
  [956,1102.3,997.6,1060.2,2240,2021.7,948.2,1020.8],
  [1165,1313,1206.5,1270.3,2239,2016.7,1155,1247.6],
  [1366.2,1512.5,1407.8,1469.8,2237.3,2018.3,1357.3,1429.4],
  [1573.5,1721.5,1615.6,1678.8,2239,2016.7,1563.6,1632.8]
];
const barBlue = "#1414F5", barOrange = "#FF4A0F";
fGenes.forEach((gene, g) => {
  const L = fLayout[g];
  const unit = L[3] - L[2];
  const xMin = (L[0] - L[2]) / unit, xMax = (L[1] - L[2]) / unit;
  const errSet = (i, color) => ({ type: "scatter", data: [{ x: i, y: fLow[g][i] }, { x: i, y: fHigh[g][i] }], showLine: true, clip: false,
    borderColor: color, borderWidth: 1.5, pointStyle: "line", pointRadius: 11, pointBorderColor: color, pointBorderWidth: 2, order: 2 });
  const sigLabel = {
    id: "sigLabel",
    afterDatasetsDraw(chart) {
      const c = chart.ctx, sx = chart.scales.x, sy = chart.scales.y;
      c.save();
      c.fillStyle = "#222"; c.textAlign = "center"; c.textBaseline = "middle"; c.font = '19px "Liberation Sans"';
      const isNs = fSigText[g] === "ns";
      c.fillText(fSigText[g], sx.getPixelForValue((fSigX[g][0] + fSigX[g][1]) / 2), sy.getPixelForValue(fSigY[g]) - (isNs ? 15 : 10));
      c.restore();
    }
  };
  addChart([L[0], L[5], L[1], L[4]], { l: 60, t: 36, r: 14, b: 46 }, {
    type: "bar",
    data: { datasets: [
      { data: [{ x: 0, y: fMeans[g][0] }, { x: 1, y: fMeans[g][1] }], backgroundColor: "transparent", borderColor: [barBlue, barOrange],
        borderWidth: 3.5, barThickness: 41, order: 3 },
      errSet(0, "rgba(20,20,245,.75)"),
      errSet(1, "rgba(255,74,15,.7)"),
      { type: "scatter", data: fCon[g].map(p => ({ x: p[0], y: p[1] })), pointStyle: "circle", pointRadius: 4.6, pointBackgroundColor: barBlue, pointBorderWidth: 0, clip: false, order: 1 },
      { type: "scatter", data: fHf[g].map(p => ({ x: 1 + p[0], y: p[1] })), pointStyle: "rect", pointRadius: 5.4, pointBackgroundColor: barOrange, pointBorderWidth: 0, clip: false, order: 1 },
      { type: "scatter", data: [{ x: fSigX[g][0], y: fSigY[g] }, { x: fSigX[g][1], y: fSigY[g] }], showLine: true, clip: false, borderColor: "#222", borderWidth: 2.2, pointRadius: 0, order: 1 },
      { type: "scatter", data: [{ x: (L[6] - L[2]) / unit, y: fAxisMin[g] }, { x: xMin, y: fAxisMin[g] }], showLine: true, clip: false, borderColor: "#222", borderWidth: 3, pointRadius: 0, order: 0 }
    ] },
    options: { scales: {
      x: { type: "linear", offset: false, min: xMin, max: xMax,
        grid: { display: true, offset: false, drawOnChartArea: false, tickLength: 11, tickWidth: 2.5, tickColor: "#222" },
        border: { color: "#222", width: 3 },
        afterBuildTicks: s => { s.ticks = [0, 1].map(v => ({ value: v })); },
        ticks: { autoSkip: false, maxRotation: 0, padding: 3, font: { size: 16.5, weight: "bold" }, callback: (v, i) => groups[i] } },
      y: { min: fAxisMin[g], max: fAxisMax[g],
        grid: { display: true, drawOnChartArea: false, tickLength: 9, tickWidth: 2.5, tickColor: "#222" },
        border: { color: "#222", width: 3 },
        ticks: { stepSize: fStep[g], padding: 2, font: { size: 17, weight: "bold" }, callback: v => v.toFixed(fDecimals[g]) } }
    } },
    plugins: [sigLabel]
  });
  put(gene, L[7], 1966, { size: 26, weight: "bold" });
  put("FPKM", L[0] - 51, (L[4] + L[5]) / 2 + 21, { size: 18, weight: "bold", rotate: -90, spacing: 1 });
});

// ---------- G ----------
frame(48, 2357, 1767, 2598);
const tsneLevels = [levelC3, levelNrp1, levelSphk1, levelAdm, levelThbs1, levelSmoc2, levelCcl11, levelXbp1];
const tsneHot = [[hotC3, .66], null, null, null, [hotThbs1, .7], [hotSmoc2, .42], null, null];
const tsneTitleX = [173, 388, 609, 810, 1020, 1228, 1429, 1635];
function polygon(points, fillStyle, order, edge) {
  return { data: points.map(p => ({ x: p[0], y: p[1] })), showLine: true, fill: "shape", backgroundColor: fillStyle,
    borderColor: edge, borderWidth: 1, pointRadius: 0, tension: .3, order };
}
tsneGenes.forEach((gene, g) => {
  const sets = clusterOutlines.map((poly, i) => polygon(poly, speckle(tsneLevels[g][i]), 3, viridis(tsneLevels[g][i] * .6)));
  if (tsneHot[g]) sets.push(polygon(tsneHot[g][0], speckle(tsneHot[g][1]), 2, "transparent"));
  [holeLower, holeBottom, holeLong].forEach(h => sets.push(polygon(h, "#fff", 1, "#fff")));
  const left = tsneTitleX[g] - 81 - 5 / 1.823;
  addChart([left, 2415, left + 165, 2578.3], { l: 0, t: 0, r: 0, b: 0 }, {
    type: "scatter",
    data: { datasets: sets },
    options: { scales: {
      x: { display: false, min: 90, max: 390 },
      y: { display: false, min: 225, max: 715, reverse: true }
    } }
  });
  put(gene, tsneTitleX[g], 2387, { size: 26.5, weight: "bold" });
});
</script>
</body>
</html>
